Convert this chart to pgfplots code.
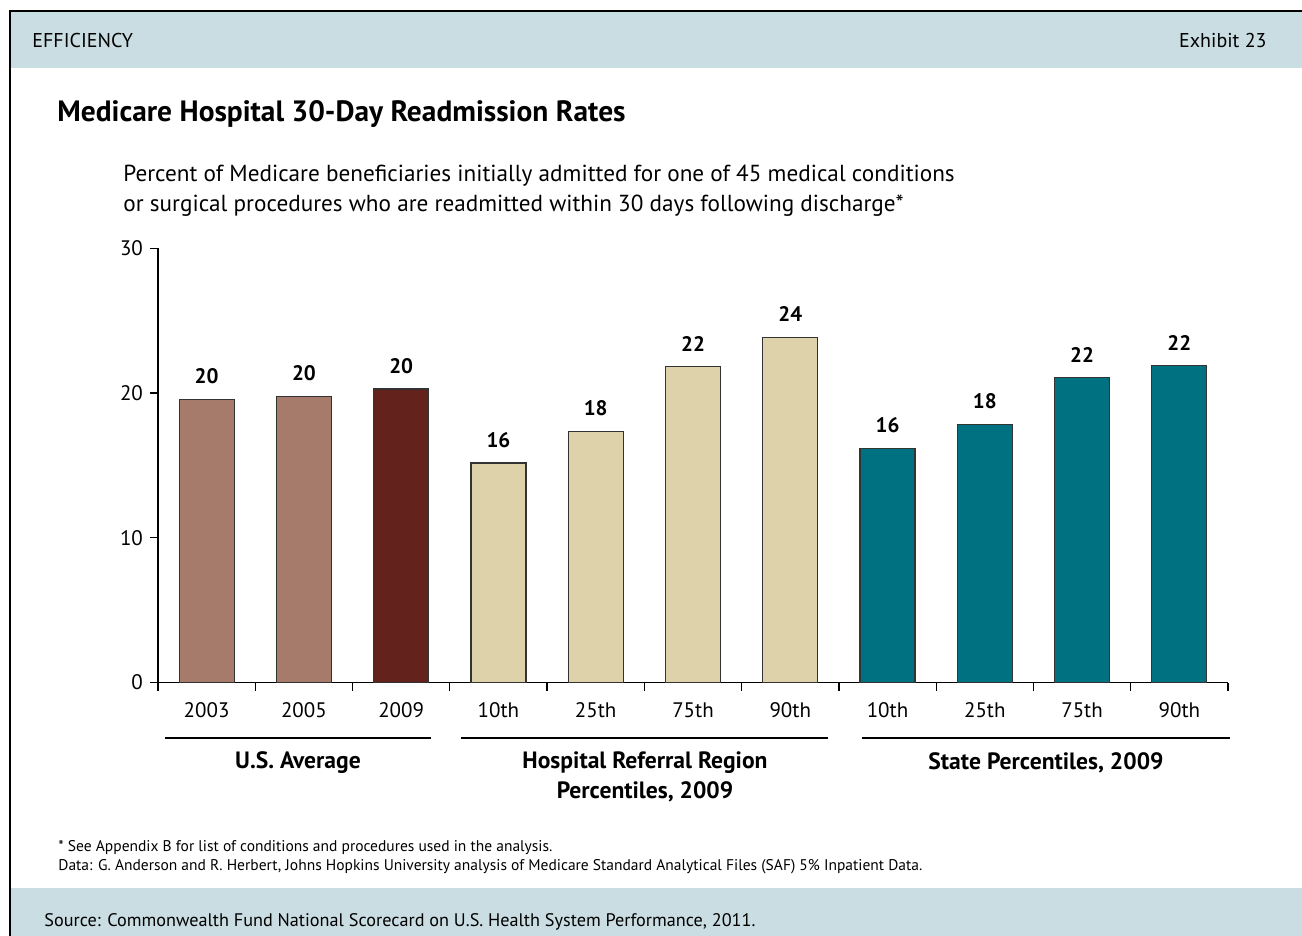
\documentclass[border=0pt]{standalone}
\usepackage{pgfplots}
\usepackage{pgfplotstable}
\pgfplotsset{compat=1.18}
\usepackage{fontspec}
\setmainfont{PT Sans}
\definecolor{hdr}{HTML}{C9DDE3}
\definecolor{usc}{HTML}{A67B6C}
\definecolor{usd}{HTML}{63221C}
\definecolor{hrr}{HTML}{DDD2A9}
\definecolor{stc}{HTML}{007180}
\definecolor{edge}{HTML}{333333}

\pgfplotstableread{
x y lab
0 19.56 20
1 19.74 20
}\usavg
\pgfplotstableread{
x y lab
2 20.27 20
}\usnine
\pgfplotstableread{
x y lab
3 15.16 16
4 17.32 18
5 21.81 22
6 23.84 24
}\hrrdata
\pgfplotstableread{
x y lab
7 16.17 16
8 17.83 18
9 21.05 22
10 21.88 22
}\statedata

\begin{document}
\begin{tikzpicture}
\begin{scope}[x=0.5pt,y=-0.5pt]
\path[use as bounding box] (0,0) rectangle (1302,936);
\fill[hdr] (10,11) rectangle (1302,68);
\fill[hdr] (10,888) rectangle (1302,936);
\draw[line width=1pt] (10,936) -- (10,11) -- (1302,11);
\node[anchor=west,inner sep=0pt,font=\fontsize{10}{12}\selectfont] at (32,41) {EFFICIENCY};
\node[anchor=east,inner sep=0pt,font=\fontsize{10}{12}\selectfont] at (1267,41) {Exhibit 23};
\node[anchor=west,inner sep=0pt,font=\bfseries\fontsize{14.7}{17}\selectfont] at (57,114.5) {Medicare Hospital 30-Day Readmission Rates};
\node[anchor=west,inner sep=0pt,font=\fontsize{11.6}{13}\selectfont] at (123,175.5) {Percent of Medicare beneficiaries initially admitted for one of 45 medical conditions};
\node[anchor=west,inner sep=0pt,font=\fontsize{11.6}{13}\selectfont] at (123,205.5) {or surgical procedures who are readmitted within 30 days following discharge*};
\node[anchor=west,inner sep=0pt,font=\fontsize{7.75}{9}\selectfont] at (58,848) {* See Appendix B for list of conditions and procedures used in the analysis.};
\node[anchor=west,inner sep=0pt,font=\fontsize{7.75}{9}\selectfont] at (58,867) {Data: G. Anderson and R. Herbert, Johns Hopkins University analysis of Medicare Standard Analytical Files (SAF) 5\% Inpatient Data.};
\node[anchor=west,inner sep=0pt,font=\fontsize{9.1}{11}\selectfont] at (44,921.5) {Source: Commonwealth Fund National Scorecard on U.S. Health System Performance, 2011.};
\draw[line width=1pt] (165,737.5) -- (431,737.5);
\draw[line width=1pt] (461,737.5) -- (828,737.5);
\draw[line width=1pt] (862,737.5) -- (1230,737.5);
\node[inner sep=0pt,font=\bfseries\fontsize{11.8}{14}\selectfont] at (298,762.5) {U.S. Average};
\node[inner sep=0pt,font=\bfseries\fontsize{11.8}{14}\selectfont] at (645,762.5) {Hospital Referral Region};
\node[inner sep=0pt,font=\bfseries\fontsize{11.8}{14}\selectfont] at (645,791.5) {Percentiles, 2009};
\node[inner sep=0pt,font=\bfseries\fontsize{11.8}{14}\selectfont] at (1046,762.5) {State Percentiles, 2009};
\end{scope}
\begin{axis}[
  at={(79pt,-341.25pt)}, anchor=south west,
  scale only axis, width=535pt, height=217.15pt,
  xmin=-0.5, xmax=10.5, ymin=0, ymax=30,
  axis x line*=bottom, axis y line*=left,
  axis line style={black, line width=0.8pt},
  xtick={0,...,10},
  xticklabels={2003,2005,2009,10th,25th,75th,90th,10th,25th,75th,90th},
  major x tick style={draw=none},
  minor xtick={-0.5,0.5,...,10.5},
  minor x tick style={black, line width=0.6pt},
  minor tick length=4pt,
  major tick length=4pt,
  tick align=outside,
  ytick={0,10,20,30},
  y tick style={black, line width=0.6pt},
  tick label style={font=\fontsize{10.5}{12}\selectfont},
  xticklabel style={yshift=-2.5pt},
  /pgf/number format/assume math mode=true,
  nodes near coords,
  point meta=explicit symbolic,
  every node near coord/.style={font=\bfseries\fontsize{10.5}{12}\selectfont, anchor=south, inner sep=0pt, yshift=7.5pt, black},
]
\addplot[ybar, bar shift=0pt, bar width=27.5pt, fill=usc, draw=edge, line width=0.6pt] table[x=x,y=y,meta=lab]{\usavg};
\addplot[ybar, bar shift=0pt, bar width=27.5pt, fill=usd, draw=edge, line width=0.6pt] table[x=x,y=y,meta=lab]{\usnine};
\addplot[ybar, bar shift=0pt, bar width=27.5pt, fill=hrr, draw=edge, line width=0.6pt] table[x=x,y=y,meta=lab]{\hrrdata};
\addplot[ybar, bar shift=0pt, bar width=27.5pt, fill=stc, draw=edge, line width=0.6pt] table[x=x,y=y,meta=lab]{\statedata};
\end{axis}
\end{tikzpicture}
\end{document}
